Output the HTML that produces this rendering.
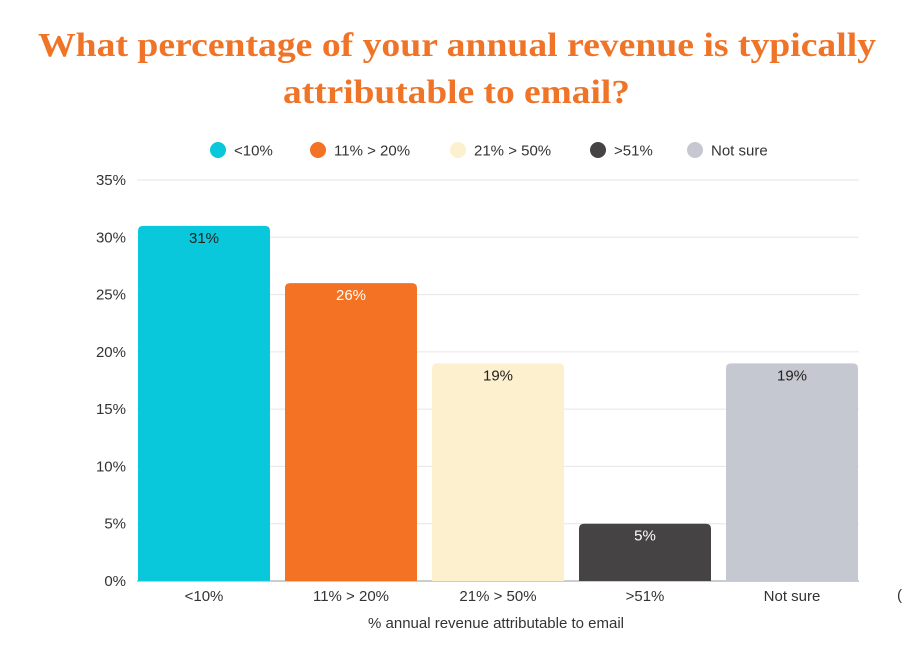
<!DOCTYPE html>
<html><head><meta charset="utf-8"><style>
html,body{margin:0;padding:0;background:#fff;}
svg{display:block;font-family:"Liberation Sans",sans-serif;}
</style></head><body>
<svg id="chart" width="902" height="664" viewBox="0 0 902 664">
<text x="38" y="56" textLength="838" lengthAdjust="spacingAndGlyphs" font-family="Liberation Serif,serif" font-weight="bold" font-size="34" fill="#F07427">What percentage of your annual revenue is typically</text>
<text x="283" y="103" textLength="347" lengthAdjust="spacingAndGlyphs" font-family="Liberation Serif,serif" font-weight="bold" font-size="34" fill="#F07427">attributable to email?</text>
<g id="legend"></g>
<g id="grid"></g>
<g id="bars"></g>
<g id="xlabels"></g>
<text x="496" y="628" text-anchor="middle" font-size="15" fill="#333">% annual revenue attributable to email</text>
<text x="897" y="600" font-size="15" fill="#333">(</text>
</svg>
<script>
const categories = ["<10%", "11% > 20%", "21% > 50%", ">51%", "Not sure"];
const values = [31, 26, 19, 5, 19];
const valueLabels = ["31%", "26%", "19%", "5%", "19%"];
const yTicks = [0, 5, 10, 15, 20, 25, 30, 35];
const colors = ["#0AC8DC", "#F37224", "#FDF0CF", "#454343", "#C5C8D0"];
const labelColors = ["#222", "#fff", "#222", "#fff", "#222"];

const NS = "http://www.w3.org/2000/svg";
const x0 = 137, x1 = 859, yBase = 581, yTop = 180, yMax = 35;
const y = v => yBase - (v / yMax) * (yBase - yTop);
const barStart = 130.5, band = 147;
const bw = 132;
const xc = i => barStart + band * i + band / 2;
function mk(tag, attrs, parent, txt) {
  const e = document.createElementNS(NS, tag);
  for (const k in attrs) e.setAttribute(k, attrs[k]);
  if (txt !== undefined) e.textContent = txt;
  parent.appendChild(e);
  return e;
}
const grid = document.getElementById('grid');
yTicks.forEach(t => {
  const l = mk('line', {x1: x0, x2: x1, y1: y(t), y2: y(t), stroke: t === 0 ? '#999' : '#e6e6e6', 'stroke-width': 1}, grid);
  
  
  const tx = mk('text', {x: 126, y: y(t) + 5, 'text-anchor': 'end', 'font-size': 15, fill: '#333'}, grid, t + '%');
  
  
});
const bars = document.getElementById('bars');
const xl = document.getElementById('xlabels');
values.forEach((v, i) => {
  const top = y(v);
  const r = mk('path', {d: `M${xc(i)-bw/2},${yBase} V${top+5} Q${xc(i)-bw/2},${top} ${xc(i)-bw/2+5},${top} H${xc(i)+bw/2-5} Q${xc(i)+bw/2},${top} ${xc(i)+bw/2},${top+5} V${yBase} Z`, fill: colors[i]}, bars);
  
  
  const t = mk('text', {x: xc(i), y: top + 17, 'text-anchor': 'middle', 'font-size': 15, fill: labelColors[i]}, bars, valueLabels[i]);
  
  
  const c = mk('text', {x: xc(i), y: 601, 'text-anchor': 'middle', 'font-size': 15, fill: '#333'}, xl, categories[i]);
  
  
});
const legend = document.getElementById('legend');
const lx = [218, 318, 458, 598, 695];
categories.forEach((c, i) => {
  const g = mk('g', {}, legend);
  
  
  mk('circle', {cx: lx[i], cy: 150, r: 8, fill: colors[i]}, g);
  mk('text', {x: lx[i] + 16, y: 155.5, 'font-size': 15, fill: '#333'}, g, c);
});
</script>
</body></html>
